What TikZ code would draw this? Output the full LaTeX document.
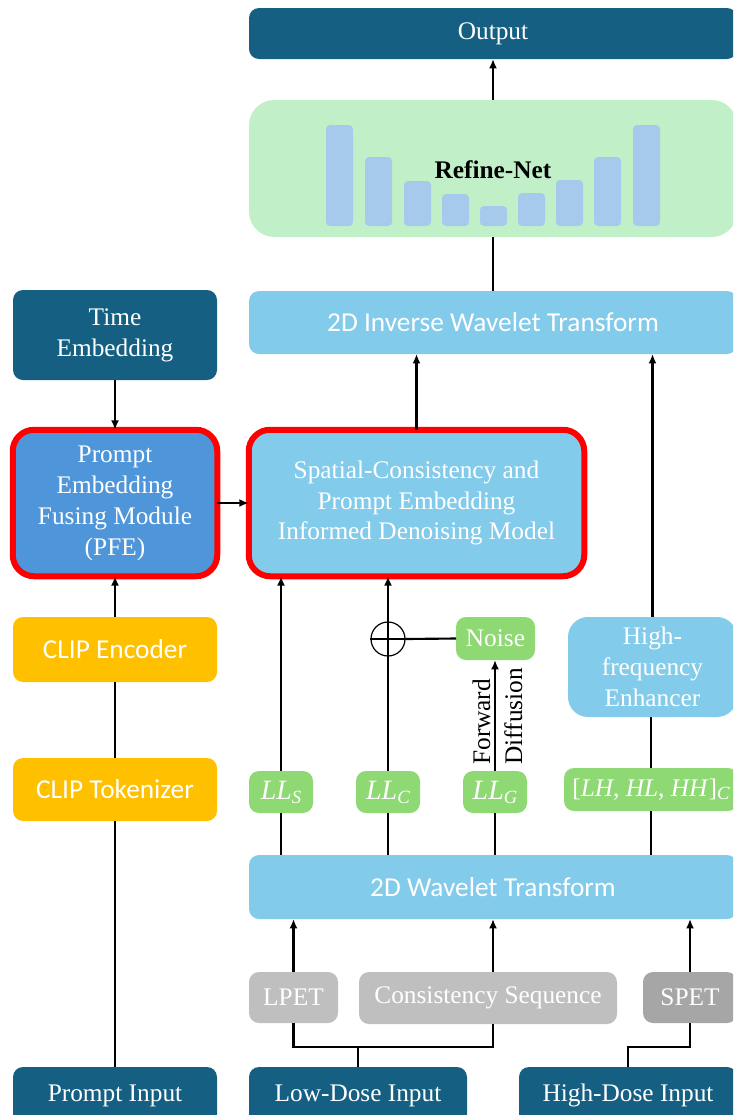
\documentclass[tikz,border=0pt]{standalone}
\usepackage{fontspec}
\setmainfont{Liberation Serif}
\newfontfamily\sansf{Carlito}
\usetikzlibrary{arrows.meta}
\definecolor{cdark}{HTML}{156082}
\definecolor{clight}{HTML}{83CBEB}
\definecolor{cblue}{HTML}{4E95D9}
\definecolor{cgreen}{HTML}{8ED973}
\definecolor{cgreenl}{HTML}{C1F0C8}
\definecolor{cbar}{HTML}{A6CAEC}
\definecolor{cgold}{HTML}{FFC000}
\definecolor{cgray}{HTML}{BFBFBF}
\definecolor{cgrayd}{HTML}{A6A6A6}
\definecolor{cred}{HTML}{FF0000}
% box between two corners (x1,y1) and (x2,y2), given in pixel units
\newcommand\bx[7]{%
  \node[#2, minimum width={(#5-#3)*0.75pt}, minimum height={(#6-#4)*0.75pt}]
    (#1) at ({(#3+#5)/2},{(#4+#6)/2}) {#7};}
% italic band names with lowered subscripts
\newcommand\bandsub[1]{\raisebox{-0.3ex}{\fontsize{14}{14}\selectfont\textit{#1}}}
\newcommand\band[2]{{\fontsize{21}{24}\selectfont\textit{#1}\bandsub{#2}}}
\begin{document}
\begin{tikzpicture}[x=0.75pt,y=-0.75pt,
  font=\fontsize{19}{23.2}\selectfont,
  box/.style={inner sep=0pt, outer sep=0pt, rounded corners=7.5pt, text=white, align=center},
  sbox/.style={box, font=\sansf\fontsize{20.5}{24}\selectfont},
  hot/.style={box, draw=cred, line width=4.5pt, rounded corners=16pt},
  ln/.style={line width=1.6pt},
  arr/.style={ln, -{Latex[length=7pt,width=6pt]}}]
\useasboundingbox (0,0) rectangle (733,1115);
\clip (0,0) rectangle (733,1115);

% output and refinement stage
\bx{out}{box, fill=cdark}{249}{8}{737}{59}{Output}
\bx{ref}{box, fill=cgreenl, rounded corners=19pt}{249}{100}{737}{237}{}
\foreach \x/\t in {326/125, 365/157, 404/181, 442/194, 480/206, 518/193, 556/180, 594/157, 633/125}
  \fill[cbar, rounded corners=3pt] (\x,\t) rectangle (\x+27,226);
\node[font=\bfseries\fontsize{19}{23}\selectfont, inner sep=0pt] (reflabel) at (493,170) {Refine-Net};
\bx{inv}{sbox, fill=clight}{249}{291}{737}{354}{2D Inverse Wavelet Transform}

% conditioning branch
\bx{time}{box, fill=cdark}{13}{290}{217}{380}{Time\\Embedding}
\bx{pfe}{hot, fill=cblue}{12.75}{429.75}{217.25}{576.25}{Prompt\\Embedding\\Fusing Module\\(PFE)}
\bx{den}{hot, fill=clight}{248.75}{429.75}{584.25}{576.25}{Spatial-Consistency and\\Prompt Embedding\\Informed Denoising Model}
\bx{enc}{sbox, fill=cgold}{13}{617}{217}{682}{CLIP Encoder}
\bx{tok}{sbox, fill=cgold}{13}{758}{217}{821}{CLIP Tokenizer}

% wavelet sub-bands
\bx{noise}{box, fill=cgreen}{456}{617}{535}{660}{Noise}
\bx{hf}{box, fill=clight, rounded corners=15pt}{568}{617}{737}{717}{High-\\frequency\\Enhancer}
\node[circle, draw, line width=0.9pt, minimum size=25.5pt, inner sep=0pt] (plus) at (388,639) {};
\bx{lls}{box, fill=cgreen}{249}{771}{313}{813}{\band{LL}{S}}
\bx{llc}{box, fill=cgreen}{356}{771}{420}{813}{\band{LL}{C}}
\bx{llg}{box, fill=cgreen}{463}{771}{527}{813}{\band{LL}{G}}
\bx{lhc}{box, fill=cgreen}{564}{768}{738}{811}{{\fontsize{19}{23}\selectfont[\textit{LH}, \textit{HL}, \textit{HH}]\bandsub{C}}}
\bx{wt}{sbox, fill=clight}{249}{855}{737}{919}{2D Wavelet Transform}

% inputs
\bx{lpet}{box, fill=cgray}{249}{972}{338}{1023}{LPET}
\bx{cs}{box, fill=cgray}{359}{972}{617}{1024}{Consistency Sequence}
\bx{spet}{box, fill=cgrayd}{643}{972}{737}{1023}{SPET}
\bx{pin}{box, fill=cdark}{13}{1067}{217}{1124}{Prompt Input}
\bx{lowin}{box, fill=cdark}{249}{1067}{467}{1124}{Low-Dose Input}
\bx{highin}{box, fill=cdark}{519}{1067}{737}{1124}{High-Dose Input}

\coordinate (csx) at (493,0);
\coordinate (j) at (358,1047);
\coordinate (k) at (690,1047);

% connectors
\draw[arr] (ref.north) -- (out.south);
\draw[ln] (inv.north) -- (ref.south);
\draw[arr] (den.north) -- (den.north |- inv.south);
\draw[arr] (hf.north) -- (hf.north |- inv.south);
\draw[arr] (time.south) -- (pfe.north);
\draw[arr] (pfe.east) -- (den.west);
\draw[arr] (enc.north) -- (pfe.south);
\draw[ln] (tok.north) -- (enc.south);
\draw[ln] (pin.north) -- (tok.south);

\draw[arr] (lls.north) -- (lls.north |- den.south);
\draw[ln] (llc.north) -- (plus.south);
\draw[arr] (plus.north) -- (plus.north |- den.south);
\draw[line width=0.9pt] (plus.west) -- (plus.east) (plus.south) -- (plus.north);
\draw[ln] (plus.east) -- (noise.west);
\draw[arr] (llg.north) -- (llg.north |- noise.south);
\node[rotate=90, anchor=base west, inner sep=0pt] (fwd) at (490,765) {Forward};
\node[rotate=90, anchor=base west, inner sep=0pt] (dif) at (522,765) {Diffusion};
\draw[ln] (lhc.north) -- (lhc.north |- hf.south);

\foreach \n in {lls, llc, llg, lhc}
  \draw[ln] (\n.south) -- (\n.south |- wt.north);

\draw[arr] (lpet.north) -- (lpet.north |- wt.south);
\draw[arr] (cs.north -| csx) -- (wt.south -| csx);
\draw[arr] (spet.north) -- (spet.north |- wt.south);
\draw[ln] (lpet.south) |- (j) -| (cs.south -| csx);
\draw[ln] (lowin.north) -- (j);
\draw[ln] (highin.north) |- (k) -- (spet.south);
\end{tikzpicture}
\end{document}
